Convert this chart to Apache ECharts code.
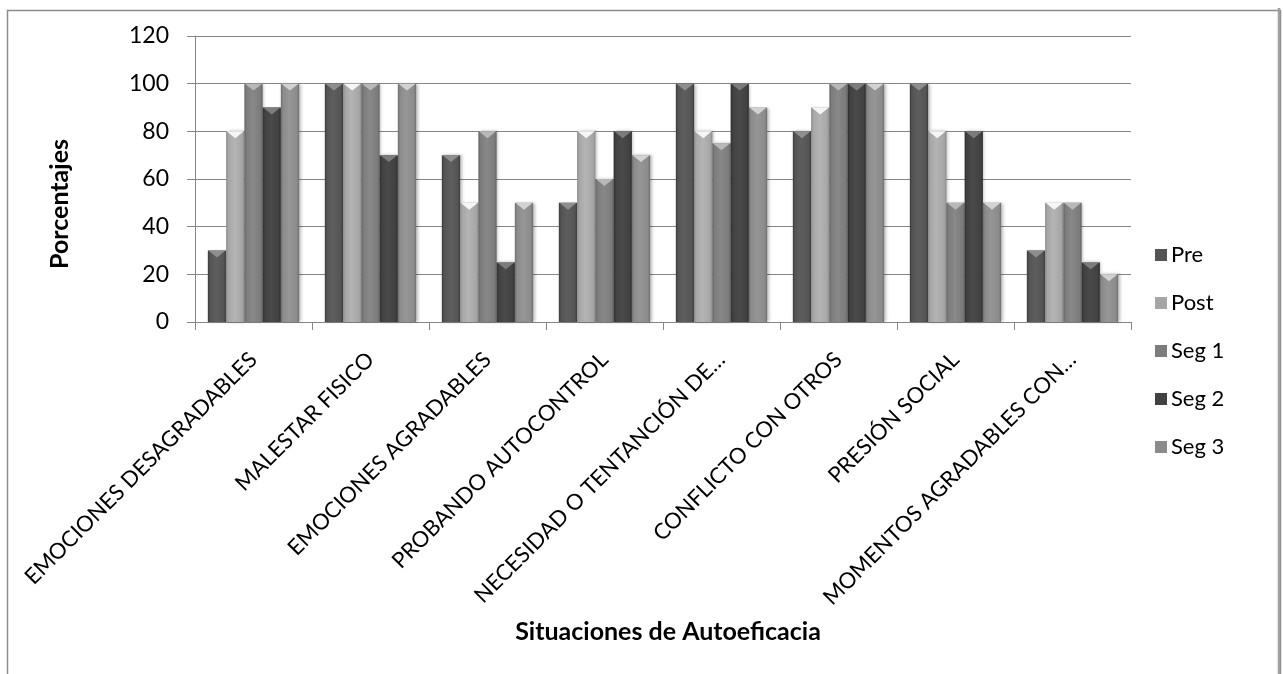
<!DOCTYPE html>
<html>
<head>
<meta charset="utf-8">
<script src="https://cdn.jsdelivr.net/npm/echarts@6/dist/echarts.min.js"></script>
<style>
  html, body { margin: 0; padding: 0; background: #ffffff; }
  #chart { width: 1283px; height: 674px; }
</style>
</head>
<body>
<div id="chart"></div>
<script>
// Situaciones de autoeficacia: porcentajes por momento de medición
const categories = [
  'EMOCIONES DESAGRADABLES',
  'MALESTAR FISICO',
  'EMOCIONES AGRADABLES',
  'PROBANDO AUTOCONTROL',
  'NECESIDAD O TENTANCIÓN DE…',
  'CONFLICTO CON OTROS',
  'PRESIÓN SOCIAL',
  'MOMENTOS AGRADABLES CON…'
];
const seriesNames = ['Pre', 'Post', 'Seg 1', 'Seg 2', 'Seg 3'];
const pre  = [30, 100, 70, 50, 100, 80, 100, 30];
const post = [80, 100, 50, 80, 80, 90, 80, 50];
const seg1 = [100, 100, 80, 60, 75, 100, 50, 50];
const seg2 = [90, 70, 25, 80, 100, 100, 80, 25];
const seg3 = [100, 100, 50, 70, 90, 100, 50, 20];
const yAxisMin = 0;
const yAxisMax = 120;
const yAxisStep = 20;
const xTitle = 'Situaciones de Autoeficacia';
const yTitle = 'Porcentajes';

const seriesValues = [pre, post, seg1, seg2, seg3];

// bevelled grey shades: [edge, body, highlight, cap]
const shades = [
  ['#3a3a3a', '#545454', '#5e5e5e', '#8e8e8e'],
  ['#8a8a8a', '#a6a6a6', '#b4b4b4', '#f6f6f6'],
  ['#636363', '#7c7c7c', '#888888', '#b8b8b8'],
  ['#2c2c2c', '#414141', '#4a4a4a', '#7c7c7c'],
  ['#6e6e6e', '#8b8b8b', '#969696', '#d2d2d2']
];

const FONT = 'Lato, "Open Sans", sans-serif';
const nSeries = seriesNames.length;

function makeRenderer(s) {
  const sh = shades[s];
  return function (params, api) {
    const idx = api.value(0);
    const v = api.value(1);
    const base = api.coord([idx, 0]);
    const top = api.coord([idx, v]);
    const band = api.size([1, 0])[0];
    const groupW = band * 0.78;
    const w = groupW / nSeries;
    const x = base[0] - groupW / 2 + s * w;
    const h = base[1] - top[1];
    const capH = Math.min(w * 0.38, h);
    const body = new echarts.graphic.LinearGradient(0, 0, 1, 0, [
      { offset: 0, color: sh[0] },
      { offset: 0.12, color: sh[1] },
      { offset: 0.45, color: sh[2] },
      { offset: 0.88, color: sh[1] },
      { offset: 1, color: sh[0] }
    ]);
    return {
      type: 'group',
      children: [
        {
          type: 'rect',
          shape: { x: x, y: top[1], width: w, height: h },
          style: {
            fill: body,
            shadowColor: 'rgba(0,0,0,0.28)',
            shadowBlur: 3,
            shadowOffsetX: 1.5,
            shadowOffsetY: 0
          }
        },
        {
          type: 'polygon',
          shape: { points: [[x + 0.5, top[1]], [x + w - 0.5, top[1]], [x + w / 2, top[1] + capH]] },
          style: { fill: sh[3] }
        }
      ]
    };
  };
}

const series = seriesNames.map(function (name, s) {
  return {
    name: name,
    type: 'custom',
    renderItem: makeRenderer(s),
    itemStyle: { color: shades[s][1] },
    encode: { x: 0, y: 1 },
    data: seriesValues[s].map(function (v, i) { return [i, v]; }),
    z: 3
  };
});

const chart = echarts.init(document.getElementById('chart'), null, { renderer: 'canvas' });
chart.setOption({
  backgroundColor: '#ffffff',
  animation: false,
  grid: { left: 195, right: 152, top: 36, bottom: 352, containLabel: false },
  legend: {
    orient: 'vertical',
    left: 1150,
    top: 238,
    itemWidth: 12,
    itemHeight: 12,
    itemGap: 24,
    icon: 'rect',
    data: seriesNames,
    textStyle: { fontFamily: FONT, fontSize: 22, color: '#000', lineHeight: 24, padding: [0, 0, 0, -1] }
  },
  xAxis: {
    type: 'category',
    data: categories,
    axisLine: { lineStyle: { color: '#868686', width: 1 } },
    axisTick: { show: true, length: 8, lineStyle: { color: '#868686' } },
    axisLabel: {
      interval: 0,
      rotate: 45,
      margin: 34,
      fontFamily: FONT,
      fontSize: 22,
      color: '#000'
    },
    splitLine: { show: false }
  },
  yAxis: {
    type: 'value',
    min: yAxisMin,
    max: yAxisMax,
    interval: yAxisStep,
    axisLine: { show: true, lineStyle: { color: '#868686', width: 1 } },
    axisTick: { show: true, length: 8, lineStyle: { color: '#868686' } },
    axisLabel: { margin: 26, fontFamily: FONT, fontSize: 23, color: '#000' },
    splitLine: { show: true, lineStyle: { color: '#868686', width: 1 } }
  },
  graphic: [
    {
      type: 'rect',
      left: 5,
      top: 8,
      shape: { width: 1273, height: 720 },
      style: { fill: 'none', stroke: '#8c8c8c', lineWidth: 1.5 },
      silent: true,
      z: 0
    },
    {
      type: 'line',
      shape: { x1: 1279, y1: 8, x2: 1279, y2: 674 },
      style: { stroke: '#a0a0a0', lineWidth: 2.5 },
      silent: true
    },
    {
      type: 'text',
      x: 668,
      y: 632,
      style: {
        text: xTitle,
        fontFamily: FONT,
        fontSize: 25,
        fontWeight: 'bold',
        fill: '#000',
        align: 'center',
        verticalAlign: 'middle'
      },
      silent: true
    },
    {
      type: 'text',
      x: 60,
      y: 204,
      rotation: Math.PI / 2,
      style: {
        text: yTitle,
        fontFamily: FONT,
        fontSize: 25,
        fontWeight: 'bold',
        fill: '#000',
        align: 'center',
        verticalAlign: 'middle'
      },
      silent: true
    }
  ],
  series: series
});
</script>
</body>
</html>
